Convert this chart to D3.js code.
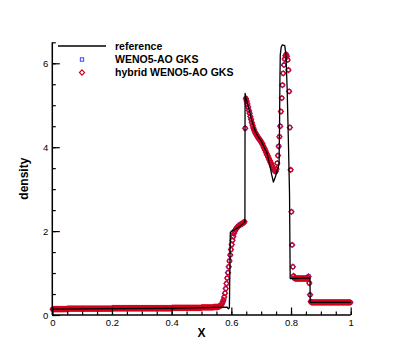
<!DOCTYPE html>
<html>
<head>
<meta charset="utf-8">
<script src="https://cdn.jsdelivr.net/npm/d3@7/dist/d3.min.js"></script>
<style>
  html, body { margin: 0; padding: 0; background: #fff; }
  svg { display: block; font-family: "Liberation Sans", Arial, Helvetica, sans-serif; }
</style>
</head>
<body>
<div id="chart"></div>
<script>
// Density profile: reference solution vs. two GKS schemes

// reference solution (read as a polyline)
const refX = [0, 0.2, 0.4, 0.55, 0.585, 0.590, 0.5935, 0.5965, 0.600, 0.610, 0.620, 0.630, 0.640, 0.6455,
  0.6460, 0.650, 0.660, 0.670, 0.680, 0.690, 0.700, 0.710, 0.720, 0.728, 0.735, 0.741, 0.748, 0.755, 0.760,
  0.7615, 0.7628, 0.764, 0.767, 0.771, 0.779, 0.783, 0.787, 0.791, 0.795, 0.7965, 0.7972, 0.810, 0.840,
  0.8635, 0.8642, 0.90, 1.0];
const refDensity = [0.14, 0.15, 0.16, 0.18, 0.19, 0.15, 0.17, 1.96, 2.0, 2.03, 2.07, 2.12, 2.18, 2.22,
  5.28, 5.15, 4.88, 4.60, 4.38, 4.25, 4.15, 4.00, 3.85, 3.60, 3.35, 3.17, 3.30, 3.48, 3.60,
  4.50, 5.60, 6.20, 6.38, 6.44, 6.42, 6.20, 5.40, 4.20, 2.90, 1.50, 0.87, 0.87, 0.88,
  0.88, 0.30, 0.30, 0.30];

// numerical solutions on a uniform mesh of 400 cells (cell centres)
const meshCells = 400;
const meshX = d3.range(meshCells).map(i => (i + 0.5) / meshCells);

const hybridDensity = [
  // 0 - 79
  0.14,0.14,0.14,0.14,0.14,0.14,0.14,0.14,0.14,0.14,
  0.14,0.14,0.14,0.14,0.14,0.14,0.14,0.14,0.14,0.14,
  0.15,0.15,0.15,0.15,0.15,0.15,0.15,0.15,0.15,0.15,
  0.15,0.15,0.15,0.15,0.15,0.15,0.15,0.15,0.15,0.15,
  0.15,0.15,0.15,0.15,0.15,0.15,0.15,0.15,0.15,0.15,
  0.15,0.15,0.15,0.15,0.15,0.15,0.15,0.15,0.15,0.15,
  0.15,0.15,0.15,0.15,0.15,0.15,0.15,0.15,0.15,0.15,
  0.15,0.15,0.15,0.15,0.15,0.15,0.15,0.15,0.15,0.15,
  // 80 - 159
  0.16,0.16,0.16,0.16,0.16,0.16,0.16,0.16,0.16,0.16,
  0.16,0.16,0.16,0.16,0.16,0.16,0.16,0.16,0.16,0.16,
  0.16,0.16,0.16,0.16,0.16,0.16,0.16,0.16,0.16,0.16,
  0.16,0.16,0.16,0.16,0.16,0.16,0.16,0.16,0.16,0.16,
  0.16,0.16,0.16,0.16,0.16,0.16,0.16,0.16,0.16,0.16,
  0.16,0.16,0.16,0.16,0.16,0.16,0.16,0.16,0.16,0.16,
  0.16,0.16,0.16,0.16,0.16,0.16,0.16,0.16,0.16,0.16,
  0.16,0.16,0.16,0.16,0.16,0.16,0.16,0.16,0.16,0.16,
  // 160 - 199
  0.17,0.17,0.17,0.17,0.17,0.17,0.17,0.17,0.17,0.17,
  0.17,0.17,0.17,0.17,0.17,0.17,0.17,0.17,0.17,0.17,
  0.17,0.17,0.17,0.17,0.17,0.17,0.17,0.17,0.17,0.17,
  0.17,0.17,0.17,0.17,0.17,0.17,0.17,0.17,0.17,0.17,
  // 200 - 223
  0.18,0.18,0.18,0.18,0.18,0.18,0.18,0.18,0.18,0.18,
  0.18,0.18,0.18,0.18,0.18,0.18,0.19,0.19,0.19,0.19,
  0.19,0.19,0.20,0.20,
  // 224 - 257 contact
  0.21,0.22,0.24,0.27,0.31,0.36,0.43,0.52,0.63,0.75,
  0.88,1.01,1.15,1.29,1.43,1.56,1.68,1.78,1.87,1.94,
  1.99,2.03,2.06,2.08,2.10,2.12,2.13,2.15,2.16,2.17,
  2.18,2.19,2.20,2.22,
  // 258 - 299
  4.45,5.16,5.10,
  5.03,4.96,4.88,4.81,4.73,4.66,4.59,4.52,4.46,4.41,
  4.37,4.33,4.30,4.27,4.24,4.21,4.19,4.17,4.14,4.11,
  4.08,4.04,4.00,3.96,3.92,3.88,3.84,3.80,3.76,3.72,
  3.68,3.64,3.60,3.56,3.52,3.48,3.45,3.43,3.42,
  // 300 - 324 peak and shock
  3.48,3.62,3.80,4.02,4.25,4.50,4.85,5.17,5.48,5.76,
  5.96,6.10,6.18,6.21,6.17,6.08,5.84,5.33,4.47,3.46,
  2.46,1.67,1.15,0.93,0.88,
  // 325 - 346
  0.87,0.87,0.87,0.87,0.87,0.87,0.87,0.87,0.87,0.87,
  0.87,0.87,0.87,0.87,0.87,0.87,0.87,0.89,0.92,0.76,
  0.48,0.32,
  // 347 - 399
  0.30,0.30,0.30,0.30,0.30,0.30,0.30,0.30,0.30,0.30,
  0.30,0.30,0.30,0.30,0.30,0.30,0.30,0.30,0.30,0.30,
  0.30,0.30,0.30,0.30,0.30,0.30,0.30,0.30,0.30,0.30,
  0.30,0.30,0.30,0.30,0.30,0.30,0.30,0.30,0.30,0.30,
  0.30,0.30,0.30,0.30,0.30,0.30,0.30,0.30,0.30,0.30,
  0.30,0.30,0.30
];
// the two schemes sit on top of each other everywhere at this scale
const wenoDensity = hybridDensity;

const xTicks = [0, 0.2, 0.4, 0.6, 0.8, 1];
const yTicks = [0, 2, 4, 6];
const legendLabels = ['reference', 'WENO5-AO GKS', 'hybrid WENO5-AO GKS'];

const width = 399, height = 355;
const margin = { left: 52.3, right: 48.3, top: 42.3, bottom: 40 };

const svg = d3.select('#chart').append('svg')
  .attr('width', width)
  .attr('height', height);

const x = d3.scaleLinear().domain([0, 1]).range([margin.left, width - margin.right]);
const y = d3.scaleLinear().domain([0, 6.5]).range([height - margin.bottom, margin.top]);

const blue = '#2b2bff';
const red = '#d6001c';

// markers: blue squares underneath, red diamonds on top
const sq = 3.4;
svg.append('g')
  .selectAll('rect')
  .data(wenoDensity)
  .enter()
  .append('rect')
  .attr('x', (d, i) => x(meshX[i]) - sq / 2)
  .attr('y', d => y(d) - sq / 2)
  .attr('width', sq)
  .attr('height', sq)
  .attr('fill', 'none')
  .attr('stroke', blue)
  .attr('stroke-width', 0.9);

const r = 2.6;
const diamond = `M0,${-r}L${r},0L0,${r}L${-r},0Z`;
svg.append('g')
  .selectAll('path')
  .data(hybridDensity)
  .enter()
  .append('path')
  .attr('d', diamond)
  .attr('transform', (d, i) => `translate(${x(meshX[i])},${y(d)})`)
  .attr('fill', 'none')
  .attr('stroke', red)
  .attr('stroke-width', 1.15);

// reference line
const line = d3.line()
  .x(d => x(d[0]))
  .y(d => y(d[1]));

svg.append('path')
  .datum(refX.map((v, i) => [v, refDensity[i]]))
  .attr('d', line)
  .attr('fill', 'none')
  .attr('stroke', '#000')
  .attr('stroke-width', 1.3)
  .attr('stroke-linejoin', 'round');

// axes, ticks pointing into the plot
svg.append('g')
  .attr('transform', `translate(0,${y(0)})`)
  .call(d3.axisBottom(x).tickValues(d3.range(0, 1.0001, 0.05)).tickSize(-3.5).tickFormat(''))
  .call(g => g.select('.domain').remove());

svg.append('g')
  .attr('transform', `translate(0,${y(0)})`)
  .call(d3.axisBottom(x).tickValues(xTicks).tickSize(-7.5).tickFormat(d3.format('')))
  .call(g => g.select('.domain').remove())
  .call(g => g.selectAll('text').attr('font-size', 9.5).attr('fill', '#000').attr('dy', '0.71em')
    .attr('y', 4));

svg.append('g')
  .attr('transform', `translate(${x(0)},0)`)
  .call(d3.axisLeft(y).tickValues(d3.range(0, 6.5001, 0.5)).tickSize(-3.5).tickFormat(''))
  .call(g => g.select('.domain').remove());

svg.append('g')
  .attr('transform', `translate(${x(0)},0)`)
  .call(d3.axisLeft(y).tickValues(yTicks).tickSize(-7.5).tickFormat(d3.format('')))
  .call(g => g.select('.domain').remove())
  .call(g => g.selectAll('text').attr('font-size', 9.5).attr('fill', '#000').attr('x', -4));

svg.selectAll('.tick line').attr('stroke', '#000').attr('stroke-width', 1.2);

// axis lines
svg.append('line')
  .attr('x1', x(0)).attr('x2', x(1))
  .attr('y1', y(0)).attr('y2', y(0))
  .attr('stroke', '#000').attr('stroke-width', 1.5);
svg.append('line')
  .attr('x1', x(0)).attr('x2', x(0))
  .attr('y1', y(0)).attr('y2', y(6.5))
  .attr('stroke', '#000').attr('stroke-width', 1.5);

// axis titles
svg.append('text')
  .attr('x', x(0.5))
  .attr('y', 337)
  .attr('text-anchor', 'middle')
  .attr('font-size', 12)
  .attr('font-weight', 'bold')
  .text('X');

svg.append('text')
  .attr('transform', `translate(28,${y(3.25)}) rotate(-90)`)
  .attr('text-anchor', 'middle')
  .attr('font-size', 12)
  .attr('font-weight', 'bold')
  .text('density');

// legend
const legend = svg.append('g').attr('font-size', 10.5).attr('font-weight', 'bold');
const legendY = [46, 59.5, 72.5];

legend.append('line')
  .attr('x1', 58).attr('x2', 106)
  .attr('y1', legendY[0]).attr('y2', legendY[0])
  .attr('stroke', '#000').attr('stroke-width', 1.3);

legend.append('rect')
  .attr('x', 82 - sq / 2).attr('y', legendY[1] - sq / 2)
  .attr('width', sq).attr('height', sq)
  .attr('fill', 'none').attr('stroke', blue).attr('stroke-width', 0.9);

legend.append('path')
  .attr('d', diamond)
  .attr('transform', `translate(82,${legendY[2]})`)
  .attr('fill', 'none').attr('stroke', red).attr('stroke-width', 1.15);

legend.selectAll('text')
  .data(legendLabels)
  .enter()
  .append('text')
  .attr('x', 115)
  .attr('y', (d, i) => legendY[i])
  .attr('dy', '0.35em')
  .text(d => d);
</script>
</body>
</html>
